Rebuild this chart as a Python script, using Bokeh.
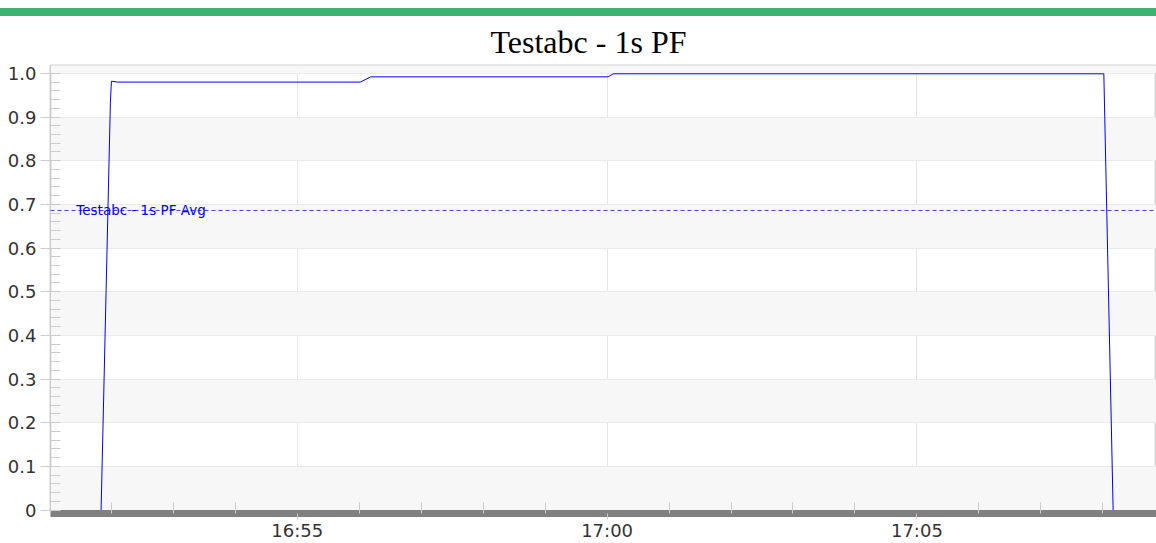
import pandas as pd
from bokeh.plotting import figure
from bokeh.models import (Range1d, FixedTicker, DatetimeTickFormatter,
                          Span, Label, Div, ColumnDataSource)
from bokeh.layouts import column
from bokeh.embed import file_html
from bokeh.resources import INLINE

# ---------------- data ----------------
day = "2024-01-01 "
times = ["16:51:50", "16:51:59", "16:52:00", "16:52:06", "16:56:01",
         "16:56:11", "17:00:01", "17:00:06", "17:08:01", "17:08:10"]
pf = [0.0, 0.934, 0.982, 0.980, 0.980, 0.992, 0.992, 0.999, 0.999, 0.0]
pf_avg = 0.686
avg_label = "Testabc - 1s PF Avg"
title_text = "Testabc - 1s PF"

x_major = ["16:55", "17:00", "17:05"]
x_minor = ["16:52", "16:53", "16:54", "16:56", "16:57", "16:58", "16:59",
           "17:01", "17:02", "17:03", "17:04", "17:06", "17:07", "17:08"]
y_ticks = [0.0, 0.1, 0.2, 0.3, 0.4, 0.5, 0.6, 0.7, 0.8, 0.9, 1.0]
y_labels = ["0", "0.1", "0.2", "0.3", "0.4", "0.5", "0.6", "0.7", "0.8", "0.9", "1.0"]
y_minor = [round(i * 0.02, 2) for i in range(0, 52)]

x_view = ("16:51:01", "17:08:52")
y_view = (-0.008, 1.018)


def ts(s):
    return pd.Timestamp(day + s)


def ms(s):
    return ts(s).value / 1e6


src = ColumnDataSource(data=dict(t=[ts(s) for s in times], pf=pf))

FONT = "DejaVu Sans"

p = figure(width=1156, height=527, output_backend="svg", toolbar_location=None,
           x_axis_type="datetime",
           x_range=Range1d(ms(x_view[0]), ms(x_view[1])),
           y_range=Range1d(*y_view),
           min_border_left=50, min_border_right=0, min_border_top=49,
           min_border_bottom=0)
p.background_fill_color = "white"
p.outline_line_color = "#d4d4d4"
p.outline_line_width = 2

p.title.text = title_text
p.title.text_font = "Liberation Serif"
p.title.text_font_size = "32px"
p.title.text_font_style = "normal"
p.title.text_color = "#000000"
p.title.align = "left"
p.title.offset = 440
p.title.standoff = 11

xa = p.below[0]
ya = p.left[0]

# x axis
xa.ticker = FixedTicker(ticks=[ms(s) for s in x_major], minor_ticks=[ms(s) for s in x_minor])
fmt = "%H:%M"
xa.formatter = DatetimeTickFormatter(seconds=fmt, minsec=fmt, minutes=fmt, hourmin=fmt,
                                     hours=fmt, days=fmt, months=fmt, years=fmt,
                                     context=None)
xa.axis_line_color = "#808080"
xa.axis_line_width = 7
xa.major_tick_line_color = "#cccccc"
xa.major_tick_out = 6
xa.major_tick_in = 0
xa.minor_tick_line_color = "#cccccc"
xa.minor_tick_in = 11
xa.minor_tick_out = 0
xa.major_label_text_font = FONT
xa.major_label_text_font_size = "18px"
xa.major_label_text_color = "#333333"
xa.major_label_standoff = 0

# y axis
ya.ticker = FixedTicker(ticks=y_ticks, minor_ticks=y_minor)
ya.major_label_overrides = dict(zip(y_ticks, y_labels))
ya.axis_line_color = "#cccccc"
ya.major_tick_line_color = "#cccccc"
ya.major_tick_out = 10
ya.major_tick_in = 0
ya.minor_tick_line_color = "#cccccc"
ya.minor_tick_in = 10
ya.minor_tick_out = 0
ya.major_label_text_font = FONT
ya.major_label_text_font_size = "18px"
ya.major_label_text_color = "#333333"
ya.major_label_standoff = 4

# grids
p.xgrid.ticker = FixedTicker(ticks=[ms(s) for s in x_major])
p.xgrid.grid_line_color = "#e6e6e6"
p.ygrid.ticker = FixedTicker(ticks=y_ticks + [1.1])
p.ygrid.grid_line_color = "#ebebeb"
p.ygrid.band_fill_color = "#f7f7f7"
p.ygrid.band_fill_alpha = 1.0

# average line + label
p.add_layout(Span(location=pf_avg, dimension="width", line_color="#0000ff",
                  line_alpha=0.75, line_dash="4 3", line_width=1))
p.add_layout(Label(x=ms("16:51:26"), y=pf_avg, text=avg_label, text_font=FONT,
                   text_font_size="13.5px", text_color="#0000ff",
                   text_baseline="middle", text_align="left"))

# data line
p.line("t", "pf", source=src, line_color="#0000ff", line_width=1)

bar = Div(text="", width=1156, height=8, margin=(8, 0, 0, 0),
          styles={"background-color": "#3cb371"})

layout = column(bar, p, spacing=0)
open("out.html", "w").write(file_html(layout, INLINE))
